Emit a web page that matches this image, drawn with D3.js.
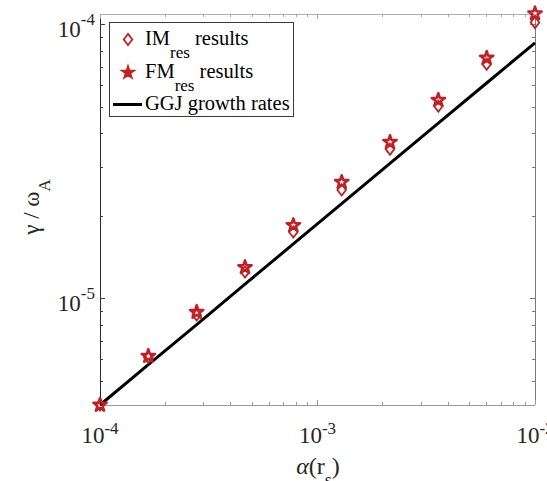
<!DOCTYPE html>
<html>
<head>
<meta charset="utf-8">
<script src="https://cdn.jsdelivr.net/npm/d3@7"></script>
<style>
  html, body { margin: 0; padding: 0; background: #fff; }
  svg { display: block; font-family: "Liberation Serif", "Times New Roman", serif; }
</style>
</head>
<body>
<svg id="chart" width="547" height="481"></svg>
<script>
// Resistivity profile parameter alpha(r_s)
const alphaValues = [1e-4, 1.668e-4, 2.783e-4, 4.642e-4, 7.743e-4, 1.292e-3, 2.154e-3, 3.594e-3, 5.995e-3, 1e-2];
// Normalised growth rates gamma / omega_A
const imValues  = [4.09e-6, 6.10e-6, 8.71e-6, 1.25e-5, 1.75e-5, 2.49e-5, 3.51e-5, 5.04e-5, 7.17e-5, 1.017e-4];
const fmValues  = [4.09e-6, 6.17e-6, 8.93e-6, 1.30e-5, 1.85e-5, 2.66e-5, 3.72e-5, 5.30e-5, 7.55e-5, 1.097e-4];
const ggjValues = [4.09e-6, 5.74e-6, 8.04e-6, 1.129e-5, 1.583e-5, 2.22e-5, 3.113e-5, 4.365e-5, 6.12e-5, 8.58e-5];

const xDomain = [1e-4, 1e-2];
const yDomain = [4.09e-6, 1.09e-4];
const xTickValues = [1e-4, 1e-3, 1e-2];
const yTickValues = [1e-5, 1e-4];
const legendLabels = [
  { base: "IM", sub: "res", rest: " results" },
  { base: "FM", sub: "res", rest: " results" },
  { base: "GGJ growth rates", sub: "", rest: "" }
];

const red = "#be2228";
const box = { left: 100, right: 535, top: 14.3, bottom: 405 };

const svg = d3.select("#chart");
svg.append("rect").attr("width", 547).attr("height", 481).attr("fill", "#fff");

const x = d3.scaleLog().domain(xDomain).range([box.left, box.right]);
const y = d3.scaleLog().domain(yDomain).range([box.bottom, box.top]);

const isMajor = v => Math.abs(Math.log10(v) - Math.round(Math.log10(v))) < 1e-9;

// Frame lines
const frame = svg.append("g").attr("fill", "none").attr("shape-rendering", "crispEdges");
frame.append("line").attr("x1", box.left).attr("x2", box.right).attr("y1", box.bottom).attr("y2", box.bottom).attr("stroke", "#9a9a9a");
frame.append("line").attr("x1", box.left).attr("x2", box.right).attr("y1", box.top).attr("y2", box.top).attr("stroke", "#b0b0b0");
frame.append("line").attr("x1", box.left).attr("x2", box.left).attr("y1", box.top).attr("y2", box.bottom).attr("stroke", "#2a2a2a");
frame.append("line").attr("x1", box.right).attr("x2", box.right).attr("y1", box.top).attr("y2", box.bottom).attr("stroke", "#7a7a7a");

// Inward ticks on all four sides
const ticks = svg.append("g").attr("shape-rendering", "crispEdges");
x.ticks().forEach(v => {
  const px = x(v), len = isMajor(v) ? 5 : 3;
  ticks.append("line").attr("x1", px).attr("x2", px).attr("y1", box.bottom).attr("y2", box.bottom - len).attr("stroke", "#9a9a9a");
  ticks.append("line").attr("x1", px).attr("x2", px).attr("y1", box.top).attr("y2", box.top + len).attr("stroke", "#a8a8a8");
});
y.ticks().forEach(v => {
  const py = y(v), len = isMajor(v) ? 5 : 3;
  ticks.append("line").attr("x1", box.left).attr("x2", box.left + len).attr("y1", py).attr("y2", py).attr("stroke", "#3a3a3a");
  ticks.append("line").attr("x1", box.right).attr("x2", box.right - len).attr("y1", py).attr("y2", py).attr("stroke", "#7a7a7a");
});

// Tick labels as powers of ten
const exponent = v => String(Math.round(Math.log10(v)));
xTickValues.forEach(v => {
  const t = svg.append("text").attr("x", x(v)).attr("y", 443).attr("text-anchor", "middle").attr("fill", "#262626");
  t.append("tspan").attr("font-size", 23).text("10");
  t.append("tspan").attr("font-size", 17).attr("dy", -9).text(exponent(v));
});
yTickValues.forEach(v => {
  const t = svg.append("text").attr("x", 95).attr("y", y(v) + 12.5).attr("text-anchor", "end").attr("fill", "#262626");
  t.append("tspan").attr("font-size", 23).text("10");
  t.append("tspan").attr("font-size", 17).attr("dy", -12).text(exponent(v));
});

// Axis titles
const xt = svg.append("text").attr("x", 318).attr("y", 474).attr("text-anchor", "middle").attr("fill", "#262626").attr("font-size", 24);
xt.append("tspan").attr("font-style", "italic").text("α");
xt.append("tspan").text("(r");
xt.append("tspan").attr("font-size", 18).attr("dy", 12).text("s");
xt.append("tspan").attr("dy", -12).text(")");

const yt = svg.append("text").attr("transform", "translate(39,207) rotate(-90)").attr("text-anchor", "middle").attr("fill", "#262626").attr("font-size", 23);
yt.append("tspan").text("γ / ω");
yt.append("tspan").attr("font-size", 17).attr("dy", 11).text("A");

// GGJ growth-rate line
const line = d3.line().x((d, i) => x(alphaValues[i])).y(d => y(d));
svg.append("path").datum(ggjValues).attr("d", line).attr("fill", "none").attr("stroke", "#000").attr("stroke-width", 3);

// Marker shapes
function starPath(R) {
  const r = R * 0.382, pts = [];
  for (let k = 0; k < 10; k++) {
    const rad = k % 2 === 0 ? R : r;
    const a = -Math.PI / 2 + k * Math.PI / 5;
    pts.push([rad * Math.cos(a), rad * Math.sin(a)]);
  }
  return "M" + pts.map(p => p.join(",")).join("L") + "Z";
}
function diamondPath(hw, hh) {
  return `M0,${-hh}L${hw},0L0,${hh}L${-hw},0Z`;
}

const starD = starPath(7);
const diamondD = diamondPath(4.3, 5.6);

svg.append("g").selectAll("path").data(fmValues).join("path")
  .attr("transform", (d, i) => `translate(${x(alphaValues[i])},${y(d)})`)
  .attr("d", starD).attr("fill", "none").attr("stroke", red).attr("stroke-width", 2.5).attr("stroke-linejoin", "round");

svg.append("g").selectAll("path").data(imValues).join("path")
  .attr("transform", (d, i) => `translate(${x(alphaValues[i])},${y(d)})`)
  .attr("d", diamondD).attr("fill", "none").attr("stroke", red).attr("stroke-width", 1.8);

// Legend
const lg = svg.append("g");
lg.append("rect").attr("x", 109.5).attr("y", 22.5).attr("width", 184).attr("height", 93.5)
  .attr("fill", "#fff").attr("stroke", "#3a3a3a").attr("stroke-width", 1).attr("shape-rendering", "crispEdges");

const rowBase = [44.5, 77.5, 110];
lg.append("path").attr("transform", "translate(128,39.5)").attr("d", diamondD)
  .attr("fill", "none").attr("stroke", red).attr("stroke-width", 1.8);
lg.append("path").attr("transform", "translate(128,72.5)").attr("d", starPath(6.8))
  .attr("fill", red).attr("stroke", red).attr("stroke-width", 1.5);
lg.append("line").attr("x1", 113).attr("x2", 142).attr("y1", 104.5).attr("y2", 104.5)
  .attr("stroke", "#000").attr("stroke-width", 3);

legendLabels.forEach((lab, i) => {
  const t = lg.append("text").attr("x", 145).attr("y", rowBase[i]).attr("font-size", 20.5).attr("fill", "#000");
  t.append("tspan").text(lab.base);
  if (lab.sub) {
    t.append("tspan").attr("font-size", 17).attr("dy", 13.5).text(lab.sub);
    t.append("tspan").attr("dy", -13.5).text(lab.rest);
  }
});
</script>
</body>
</html>
